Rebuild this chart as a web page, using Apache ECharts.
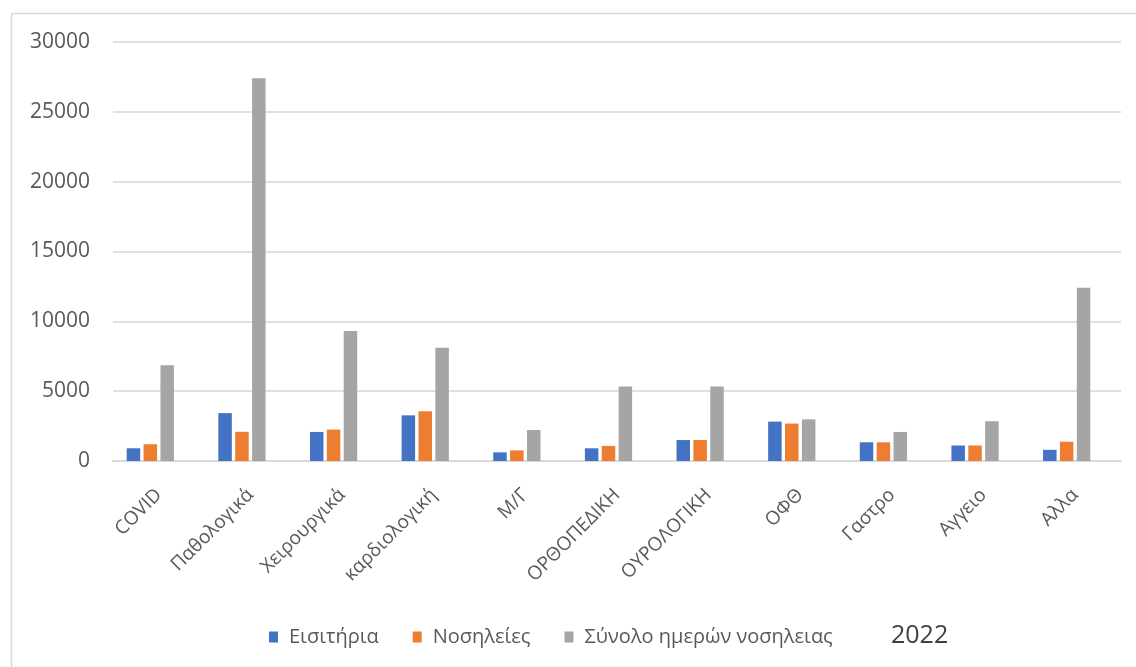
<!DOCTYPE html>
<html>
<head>
<meta charset="utf-8">
<script src="https://cdn.jsdelivr.net/npm/echarts@6/dist/echarts.min.js"></script>
<style>
  html, body { margin: 0; padding: 0; background: #fff; }
  #chart { width: 1136px; height: 667px; }
</style>
</head>
<body>
<div id="chart"></div>
<script>
// Departments (x axis)
const categories = ['COVID', 'Παθολογικά', 'Χειρουργικά', 'καρδιολογική', 'Μ/Γ',
  'ΟΡΘΟΠΕΔΙΚΗ', 'ΟΥΡΟΛΟΓΙΚΗ', 'ΟΦΘ', 'Γαστρο', 'Αγγειο', 'Αλλα'];

// Series values
const eisitiria = [910, 3430, 2080, 3270, 620, 910, 1500, 2820, 1340, 1110, 800];
const nosileies = [1200, 2090, 2250, 3560, 760, 1080, 1500, 2680, 1340, 1110, 1380];
const synoloHmeron = [6850, 27400, 9300, 8110, 2220, 5330, 5330, 2980, 2080, 2850, 12400];

const seriesNames = ['Εισιτήρια', 'Νοσηλείες', 'Σύνολο ημερών νοσηλειας'];
const yTicks = [0, 5000, 10000, 15000, 20000, 25000, 30000];
const yearLabel = '2022';

const FONT = '"Open Sans", "Noto Sans", sans-serif';
const chart = echarts.init(document.getElementById('chart'), null, { renderer: 'canvas' });

const yMin = yTicks[0], yMax = yTicks[yTicks.length - 1], yStep = yTicks[1] - yTicks[0];

chart.setOption({
  animation: false,
  backgroundColor: '#ffffff',
  color: ['#4472C4', '#ED7D31', '#A5A5A5'],
  graphic: [
    {
      type: 'rect', z: -10,
      shape: { x: 11.5, y: 13.5, width: 1140, height: 670 },
      style: { fill: 'none', stroke: '#d9d9d9', lineWidth: 1.5 }
    },
    {
      type: 'text', left: 891, top: 623,
      style: { text: yearLabel, font: '25px ' + FONT, fill: '#404040' }
    }
  ],
  grid: [
    // plot area carrying the bars
    { left: 104.5, right: 23.5, top: 42, bottom: 206, containLabel: false },
    // plot area carrying the gridlines and axis labels
    { left: 113, right: 15, top: 42, bottom: 206, containLabel: false }
  ],
  legend: {
    data: seriesNames,
    left: 264, top: 622,
    itemWidth: 9, itemHeight: 11, itemGap: 34,
    icon: 'rect',
    textStyle: { fontFamily: FONT, fontSize: 20, color: '#595959', padding: [0, 0, 0, 6] }
  },
  xAxis: [
    {
      type: 'category', gridIndex: 0, data: categories,
      axisLine: { show: false }, axisTick: { show: false }, axisLabel: { show: false }
    },
    {
      type: 'category', gridIndex: 1, data: categories,
      axisLine: { show: true, lineStyle: { color: '#d9d9d9', width: 2 } },
      axisTick: { show: false },
      axisLabel: {
        rotate: 45, margin: 31, interval: 0,
        fontFamily: FONT, fontSize: 19, color: '#595959'
      }
    }
  ],
  yAxis: [
    {
      type: 'value', gridIndex: 0, min: yMin, max: yMax, interval: yStep,
      axisLine: { show: false }, axisTick: { show: false },
      axisLabel: { show: false }, splitLine: { show: false }
    },
    {
      type: 'value', gridIndex: 1, min: yMin, max: yMax, interval: yStep,
      axisLine: { show: false }, axisTick: { show: false },
      axisLabel: {
        margin: 23, fontFamily: FONT, fontSize: 21, color: '#595959',
        formatter: (v) => String(v)
      },
      splitLine: { lineStyle: { color: '#e0e0e0', width: 2 } }
    }
  ],
  series: [
    { name: seriesNames[0], type: 'bar', data: eisitiria, barWidth: 13.5, barGap: '25%', z: 3 },
    { name: seriesNames[1], type: 'bar', data: nosileies, barWidth: 13.5, barGap: '25%', z: 3 },
    { name: seriesNames[2], type: 'bar', data: synoloHmeron, barWidth: 13.5, barGap: '25%', z: 3 }
  ]
});
</script>
</body>
</html>
